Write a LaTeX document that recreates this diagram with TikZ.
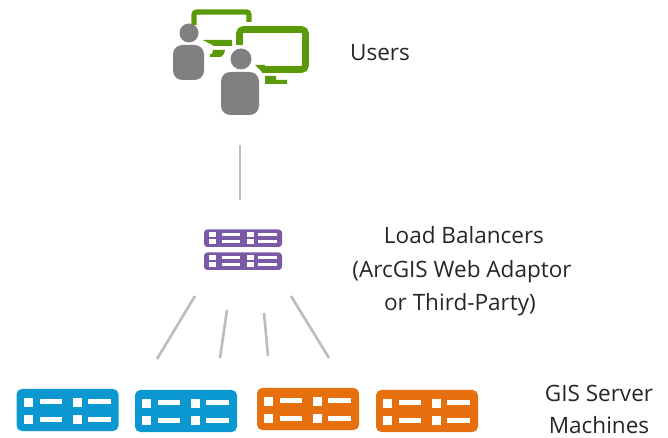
\documentclass[tikz,border=0pt]{standalone}
\usepackage{fontspec}
\setmainfont{Open Sans}
\definecolor{mygreen}{HTML}{5A9A08}
\definecolor{mygray}{HTML}{808080}
\definecolor{mypurple}{HTML}{7A5AA6}
\definecolor{myblue}{HTML}{0B97CF}
\definecolor{myorange}{HTML}{E66F0E}
\definecolor{linegray}{HTML}{BDBDBD}
\tikzset{
  label text/.style={font=\fontsize{16.9}{19}\selectfont, text=black!85, anchor=base, inner sep=0pt},
  link/.style={draw=linegray, line width=2pt},
  monitor/.style={draw=mygreen, line width=4pt, rounded corners=2pt},
  greenfill/.style={fill=mygreen},
  persona/.style={fill=mygray},
  chip/.style={fill=white},
}
% #1 x-left, #2 y-top, #3 colour
\newcommand{\serverbig}[3]{%
  \fill[#3, rounded corners=4pt] (#1,#2) rectangle ++(102,42);
  \foreach \cx/\w in {7/9,56/9} \foreach \cy in {9,26}
    \fill[chip] (#1+\cx,#2+\cy) rectangle ++(\w,9);
  \foreach \cx/\w in {23/22,71/23} \foreach \cy in {10.5,28}
    \fill[chip] (#1+\cx,#2+\cy) rectangle ++(\w,5);
}
\newcommand{\serversmall}[2]{%
  \fill[mypurple, rounded corners=2.5pt] (#1,#2) rectangle ++(78,17.5);
  \foreach \cx in {5,43} \foreach \cy in {3,10}
    \fill[chip] (#1+\cx,#2+\cy) rectangle ++(6.5,4.5);
  \foreach \cx/\w in {18/18,54/19} \foreach \cy in {4,11}
    \fill[chip] (#1+\cx,#2+\cy) rectangle ++(\w,2.5);
}
% #1 head x, #2 head y, #3 radius, #4 body left, #5 body top, #6 body right, #7 body bottom
\newcommand{\personfig}[7]{%
  \fill[persona] (#1,#2) circle (#3);
  \fill[persona, rounded corners=7pt] (#4,#5) rectangle (#6,#7);
}
\begin{document}
\begin{tikzpicture}[x=0.75pt,y=-0.75pt]
\useasboundingbox (0,0) rectangle (668,438);
% back monitor
\draw[monitor] (194,25) -- (194,12) -- (249,12) -- (249,22);
\fill[greenfill] (203,40) -- (232,40) -- (232,46) -- (214,46) -- cycle;
\fill[greenfill] (213,50) -- (225,50) -- (224,54) -- (221,57) -- (210,57) -- (210,54) -- (212,54) -- cycle;
% front monitor
\draw[monitor, line width=5pt, rounded corners=3pt] (239.5,45) -- (239.5,29.5) -- (305.5,29.5) -- (305.5,69.5) -- (262,69.5);
\fill[greenfill] (255,65) -- (265,65) -- (265,72) -- (262,72) -- cycle;
\fill[greenfill] (265,76) -- (276,76) -- (276,80) -- (287,80) -- (287,84) -- (265,84) -- cycle;
% people
\personfig{189}{33}{9.5}{173}{45}{204}{80}
\personfig{241}{59}{10.5}{221}{72}{259}{115}
% nodes
\node[label text] (users) at (380,61) {Users};
\coordinate (topA) at (240,145);
\coordinate (topB) at (240,200);
\draw[link] (topA) -- (topB);
\serversmall{204}{229.5}
\serversmall{204}{252.5}
\node[label text] (lb1) at (464,244) {Load Balancers};
\node[label text] (lb2) at (462,278) {(ArcGIS Web Adaptor};
\node[label text] (lb3) at (460,311) {or Third-Party)};
\coordinate (f1a) at (195,296); \coordinate (f1b) at (157,359);
\coordinate (f2a) at (227,310); \coordinate (f2b) at (220,358);
\coordinate (f3a) at (264,313); \coordinate (f3b) at (268,356);
\coordinate (f4a) at (291,296); \coordinate (f4b) at (329,358);
\draw[link] (f1a) -- (f1b);
\draw[link] (f2a) -- (f2b);
\draw[link] (f3a) -- (f3b);
\draw[link] (f4a) -- (f4b);
\serverbig{16.5}{389}{myblue}
\serverbig{135}{390}{myblue}
\serverbig{257}{388}{myorange}
\serverbig{376}{390}{myorange}
\node[label text] (gis1) at (599,402) {GIS Server};
\node[label text] (gis2) at (599,434) {Machines};
\end{tikzpicture}
\end{document}
